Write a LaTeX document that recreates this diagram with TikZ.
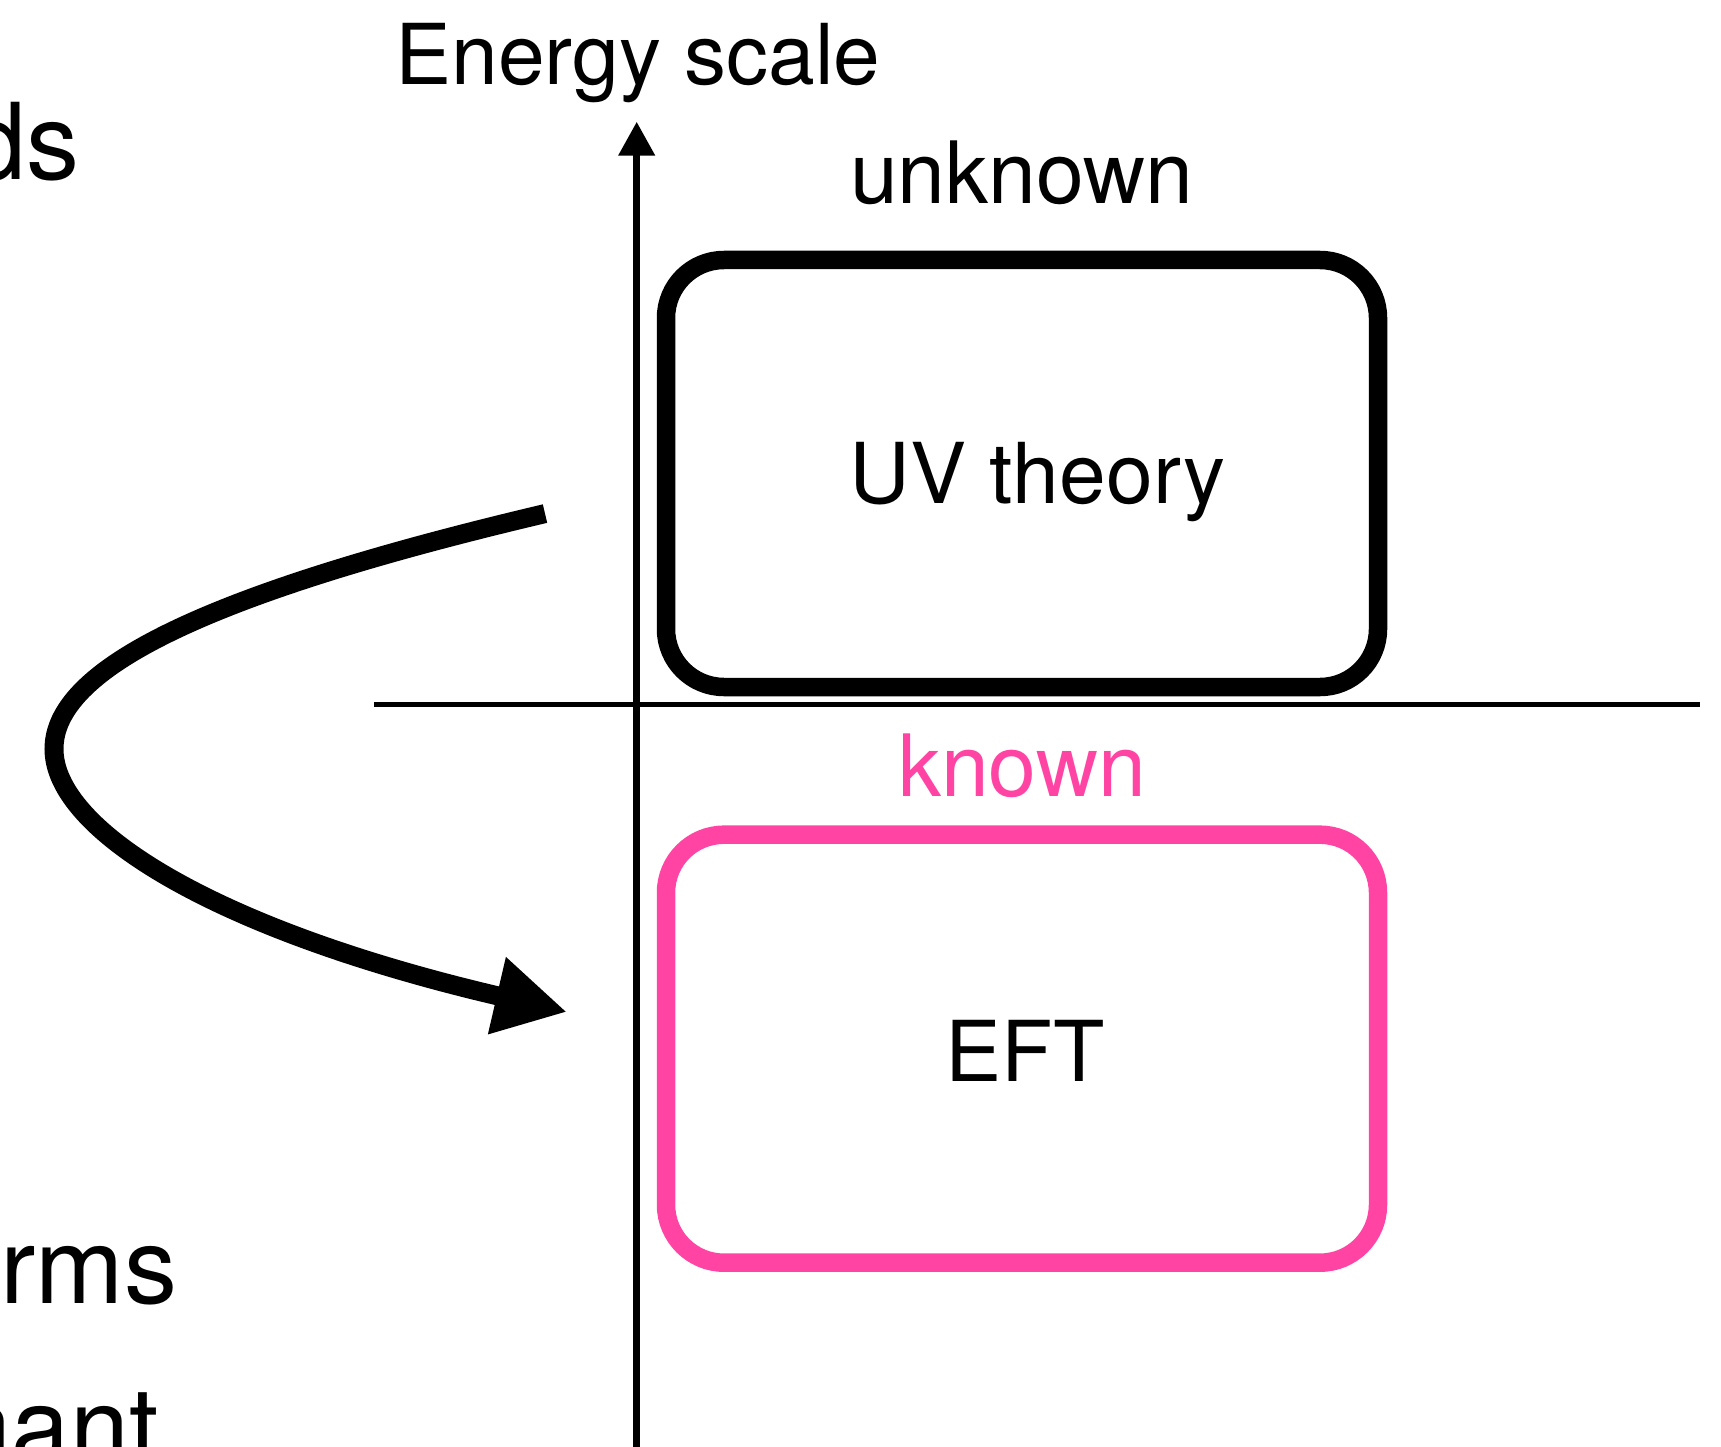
\documentclass[tikz,border=0pt]{standalone}
\usepackage{fontspec}
\setmainfont{TeX Gyre Heros}
\usetikzlibrary{arrows.meta}
\definecolor{eftpink}{RGB}{255,68,163}
\tikzset{
  lbl/.style={inner sep=0pt, anchor=base, font=\fontsize{84}{100}\selectfont},
  lbls/.style={inner sep=0pt, anchor=base, font=\fontsize{86}{100}\selectfont},
  sidelbl/.style={inner sep=0pt, anchor=base east, font=\fontsize{106}{120}\selectfont},
  theorybox/.style={draw, rectangle, rounded corners=58pt, line width=18.5pt,
    minimum width=712pt, minimum height=427pt, inner sep=0pt, outer sep=0pt, anchor=north west},
}
\begin{document}
\begin{tikzpicture}[x=1pt,y=-1pt]
\useasboundingbox (0,0) rectangle (1721,1447);
% axes
\coordinate (axbot) at (636.7,1455);
\coordinate (axtop) at (636.7,121.7);
\draw[line width=7.5pt, -{Triangle[length=34pt,width=35pt]}] (axbot) -- (axtop);
\coordinate (hl) at (374,704.5);
\coordinate (hr) at (1700,704.5);
\draw[line width=5.3pt] (hl) -- (hr);
% boxes
\node[theorybox] (uv) at (666,260) {};
\node[theorybox, draw=eftpink, minimum height=428pt] (eft) at (666,834.7) {};
% labels
\node[lbl] (energy) at (638,85) {Energy scale};
\node[lbls] (unknown) at (1021.7,204) {unknown};
\node[lbl] (uvt) at (1037.5,503.3) {UV theory};
\node[lbls, text=eftpink] (known) at (1022,796) {known};
\node[lbl] (eftt) at (1025,1081) {EFT};
% side texts
\node[sidelbl] (ds) at (80,180) {ds};
\node[sidelbl] (rms) at (177.3,1303.3) {rms};
\node[sidelbl] (nant) at (158.9,1463) {nant};
% curved arrow
\coordinate (cstart) at (545,513.6);
\coordinate (cleft) at (54,749);
\coordinate (cend) at (567,1012);
\draw[line width=19pt, -{Triangle[length=72pt,width=74pt]}]
  (cstart) .. controls (200,595) and (54,670) .. (cleft)
           .. controls (54,830) and (215,930) .. (cend);
\end{tikzpicture}
\end{document}
